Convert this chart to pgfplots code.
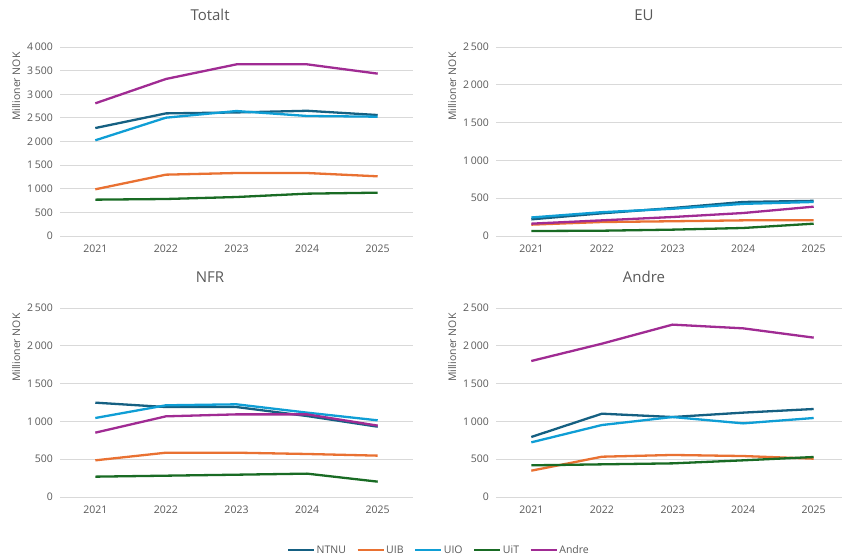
\documentclass[border=0pt]{standalone}
\usepackage{fontspec}
\setmainfont{Open Sans}
\usepackage{pgfplots}
\pgfplotsset{compat=1.18}

\definecolor{ntnu}{HTML}{156082}
\definecolor{uib}{HTML}{E97132}
\definecolor{uio}{HTML}{0F9ED5}
\definecolor{uit}{HTML}{196B24}
\definecolor{andre}{HTML}{A02B93}
\definecolor{txt}{HTML}{595959}
\definecolor{gridc}{HTML}{D9D9D9}

\pgfplotsset{
  panel/.style={
    scale only axis, width=353pt, height=189pt,
    xmin=2020.5, xmax=2025.5, ymin=0,
    xtick={2021,2022,2023,2024,2025},
    xticklabels={2021,2022,2023,2024,2025},
    axis line style={draw=none}, major tick length=0pt,
    ymajorgrids, grid style={line width=0.8pt, color=gridc},
    tick label style={font=\fontsize{10.5}{12}\selectfont, color=txt},
    yticklabel style={xshift=-3.5pt},
    xticklabel style={yshift=-5pt},
    /pgf/number format/assume math mode=true,
    /pgf/number format/1000 sep={\,},
    scaled y ticks=false,
    ylabel={Millioner NOK},
    ylabel style={font=\fontsize{10.5}{12}\selectfont, color=txt, at={(ticklabel cs:0.79)}},
    title style={font=\fontsize{15}{18}\selectfont, color=txt, anchor=center},
    every axis plot/.append style={line width=2.3pt, line join=round, mark=none},
  },
  lnNTNU/.style={color=ntnu},
  lnUIB/.style={color=uib},
  lnUIO/.style={color=uio},
  lnUiT/.style={color=uit},
  lnAndre/.style={color=andre},
}

\begin{document}
\begin{tikzpicture}
\useasboundingbox (0,0) rectangle (842pt,557pt);

% Totalt
\begin{axis}[panel, at={(60pt,321pt)}, ymax=4000, ytick={0,500,...,4000},
  title={Totalt}, title style={at={(rel axis cs:0.425,1.138)}}]
\addplot[lnNTNU] coordinates {(2021,2285) (2022,2595) (2023,2615) (2024,2650) (2025,2560)};
\addplot[lnUIB] coordinates {(2021,988) (2022,1298) (2023,1333) (2024,1333) (2025,1263)};
\addplot[lnUIO] coordinates {(2021,2025) (2022,2504) (2023,2645) (2024,2540) (2025,2525)};
\addplot[lnUiT] coordinates {(2021,769) (2022,783) (2023,825) (2024,896) (2025,917)};
\addplot[lnAndre] coordinates {(2021,2808) (2022,3323) (2023,3633) (2024,3633) (2025,3436)};
\end{axis}

% EU
\begin{axis}[panel, at={(496pt,321pt)}, ymax=2500, ytick={0,500,...,2500},
  title={EU}, title style={at={(rel axis cs:0.419,1.138)}}]
\addplot[lnNTNU] coordinates {(2021,220) (2022,300) (2023,370) (2024,450) (2025,465)};
\addplot[lnUIB] coordinates {(2021,150) (2022,185) (2023,195) (2024,207) (2025,207)};
\addplot[lnUIO] coordinates {(2021,245) (2022,315) (2023,360) (2024,425) (2025,450)};
\addplot[lnUiT] coordinates {(2021,66) (2022,70) (2023,84) (2024,106) (2025,163)};
\addplot[lnAndre] coordinates {(2021,163) (2022,207) (2023,251) (2024,304) (2025,388)};
\end{axis}

% NFR
\begin{axis}[panel, at={(60pt,60pt)}, ymax=2500, ytick={0,500,...,2500},
  title={NFR}, title style={at={(rel axis cs:0.425,1.132)}}]
\addplot[lnNTNU] coordinates {(2021,1248) (2022,1190) (2023,1190) (2024,1071) (2025,930)};
\addplot[lnUIB] coordinates {(2021,485) (2022,586) (2023,586) (2024,569) (2025,547)};
\addplot[lnUIO] coordinates {(2021,1045) (2022,1213) (2023,1226) (2024,1116) (2025,1014)};
\addplot[lnUiT] coordinates {(2021,269) (2022,282) (2023,295) (2024,309) (2025,203)};
\addplot[lnAndre] coordinates {(2021,851) (2022,1067) (2023,1093) (2024,1093) (2025,944)};
\end{axis}

% Andre
\begin{axis}[panel, at={(496pt,60pt)}, ymax=2500, ytick={0,500,...,2500},
  title={Andre}, title style={at={(rel axis cs:0.419,1.132)}},
  legend columns=5,
  legend style={draw=none, fill=none, at={(rel axis cs:-0.164,-0.281)}, anchor=center,
    font=\fontsize{10.5}{12}\selectfont, text=txt,
    /tikz/every odd column/.append style={column sep=1pt},
    /tikz/every even column/.append style={column sep=10pt},
    nodes={inner sep=0.5pt}},
  legend image code/.code={\draw[#1, line width=2.3pt] (0pt,0pt) -- (26pt,0pt);}]
\addplot[lnNTNU] coordinates {(2021,794) (2022,1102) (2023,1058) (2024,1116) (2025,1164)};
\addplot[lnUIB] coordinates {(2021,348) (2022,533) (2023,556) (2024,542) (2025,507)};
\addplot[lnUIO] coordinates {(2021,723) (2022,952) (2023,1058) (2024,974) (2025,1045)};
\addplot[lnUiT] coordinates {(2021,419) (2022,432) (2023,445) (2024,485) (2025,529)};
\addplot[lnAndre] coordinates {(2021,1799) (2022,2028) (2023,2280) (2024,2231) (2025,2108)};
\legend{NTNU,UIB,UIO,UiT,Andre}
\end{axis}
\end{tikzpicture}
\end{document}
